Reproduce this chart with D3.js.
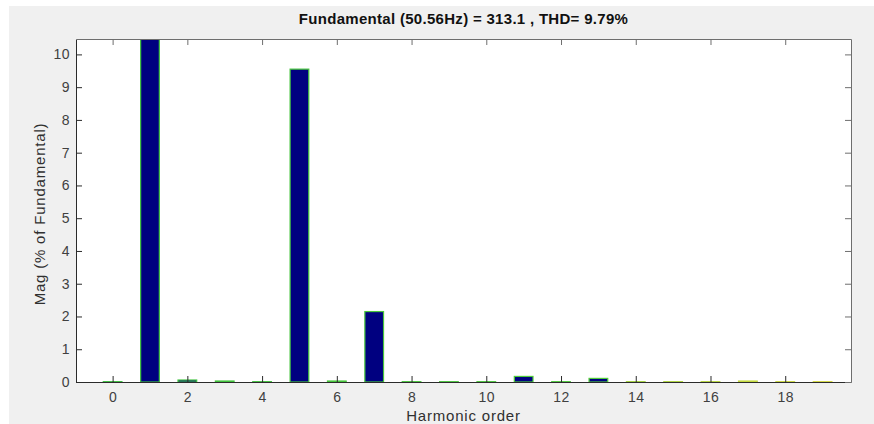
<!DOCTYPE html>
<html>
<head>
<meta charset="utf-8">
<script src="https://cdn.jsdelivr.net/npm/d3@7"></script>
<style>
  html, body { margin: 0; padding: 0; background: #ffffff; }
  svg { display: block; }
  text { font-family: "Liberation Sans", Arial, Helvetica, sans-serif; }
</style>
</head>
<body>
<svg id="chart" width="874" height="424"></svg>
<script>
// Harmonic spectrum, magnitude as % of fundamental
const harmonics = [0, 1, 2, 3, 4, 5, 6, 7, 8, 9, 10, 11, 12, 13, 14, 15, 16, 17, 18, 19];
const magnitudes = [0.01, 100, 0.06, 0.03, 0.01, 9.55, 0.03, 2.15, 0.01, 0.01,
                    0.01, 0.17, 0.01, 0.11, 0.01, 0.01, 0.01, 0.03, 0.01, 0.01];
const xTicks = [0, 2, 4, 6, 8, 10, 12, 14, 16, 18];
const yTicks = [0, 1, 2, 3, 4, 5, 6, 7, 8, 9, 10];
const titleText = "Fundamental (50.56Hz) = 313.1 , THD= 9.79%";
const xLabelText = "Harmonic order";
const yLabelText = "Mag (% of Fundamental)";

const svg = d3.select("#chart");
const W = 874, H = 424;
const plot = { left: 76, top: 39, right: 851, bottom: 382 };

// figure background
svg.append("rect").attr("x", 9).attr("y", 6).attr("width", W - 9).attr("height", H - 6).attr("fill", "#f0f0f0");

const x = d3.scaleLinear().domain([-0.98, 19.76]).range([plot.left, plot.right]);
const y = d3.scaleLinear().domain([0, 10.47]).range([plot.bottom, plot.top]);

// axes area
svg.append("rect")
  .attr("x", plot.left).attr("y", plot.top)
  .attr("width", plot.right - plot.left).attr("height", plot.bottom - plot.top)
  .attr("fill", "#ffffff");

svg.append("clipPath").attr("id", "plotClip")
  .append("rect")
  .attr("x", plot.left).attr("y", plot.top)
  .attr("width", plot.right - plot.left).attr("height", plot.bottom - plot.top);

// edge colour shifts from green to yellow along the harmonic order
const edgeColor = d3.scaleLinear().domain([0, 13, 14, 19])
  .range(["#3cc03c", "#52cc3a", "#a6d63a", "#d8dc40"]);
const barW = 0.5;

svg.append("g").attr("clip-path", "url(#plotClip)")
  .selectAll("rect.bar")
  .data(harmonics)
  .join("rect")
  .attr("class", "bar")
  .attr("x", d => x(d - barW / 2))
  .attr("width", d => x(d + barW / 2) - x(d - barW / 2))
  .attr("y", (d, i) => y(magnitudes[i]))
  .attr("height", (d, i) => y(0) - y(magnitudes[i]))
  .attr("fill", "#000080")
  .attr("stroke", d => edgeColor(d))
  .attr("stroke-width", 1.2);

const tickLen = 6;
const axisDark = "#2b2b2b";
const axisLight = "#6e6e6e";

function styleTickText(g) {
  g.selectAll(".tick text")
    .attr("font-size", 14).attr("fill", "#404040")
    .attr("letter-spacing", 0.5)
    .attr("font-family", "Liberation Sans, Arial, sans-serif");
}

// bottom axis
const xAxis = d3.axisBottom(x).tickValues(xTicks).tickSizeInner(-tickLen).tickSizeOuter(0).tickPadding(10);
const gx = svg.append("g").attr("transform", `translate(0,${plot.bottom})`).call(xAxis);
gx.select(".domain").attr("stroke", axisDark);
gx.selectAll(".tick line").attr("stroke", axisDark);
styleTickText(gx);

// left axis
const yAxis = d3.axisLeft(y).tickValues(yTicks).tickSizeInner(-tickLen).tickSizeOuter(0).tickPadding(6);
const gy = svg.append("g").attr("transform", `translate(${plot.left},0)`).call(yAxis);
gy.select(".domain").attr("stroke", axisDark);
gy.selectAll(".tick line").attr("stroke", axisDark);
styleTickText(gy);

// top axis (ticks only)
const gt = svg.append("g").attr("transform", `translate(0,${plot.top})`)
  .call(d3.axisTop(x).tickValues(xTicks).tickSizeInner(-tickLen).tickSizeOuter(0).tickFormat(""));
gt.select(".domain").attr("stroke", axisLight);
gt.selectAll(".tick line").attr("stroke", axisLight);

// right axis (ticks only)
const gr = svg.append("g").attr("transform", `translate(${plot.right},0)`)
  .call(d3.axisRight(y).tickValues(yTicks).tickSizeInner(-tickLen).tickSizeOuter(0).tickFormat(""));
gr.select(".domain").attr("stroke", axisLight);
gr.selectAll(".tick line").attr("stroke", axisLight);

// title
svg.append("text")
  .attr("x", (plot.left + plot.right) / 2).attr("y", 24)
  .attr("text-anchor", "middle")
  .attr("font-size", 15).attr("font-weight", "bold").attr("fill", "#111")
  .attr("letter-spacing", 0.3)
  .text(titleText);

// axis labels
svg.append("text")
  .attr("x", (plot.left + plot.right) / 2).attr("y", 421)
  .attr("text-anchor", "middle")
  .attr("font-size", 15).attr("fill", "#303030")
  .attr("letter-spacing", 0.8)
  .text(xLabelText);

svg.append("text")
  .attr("transform", `translate(45,214) rotate(-90)`)
  .attr("text-anchor", "middle")
  .attr("font-size", 15).attr("fill", "#303030")
  .attr("letter-spacing", 0.8)
  .text(yLabelText);
</script>
</body>
</html>
